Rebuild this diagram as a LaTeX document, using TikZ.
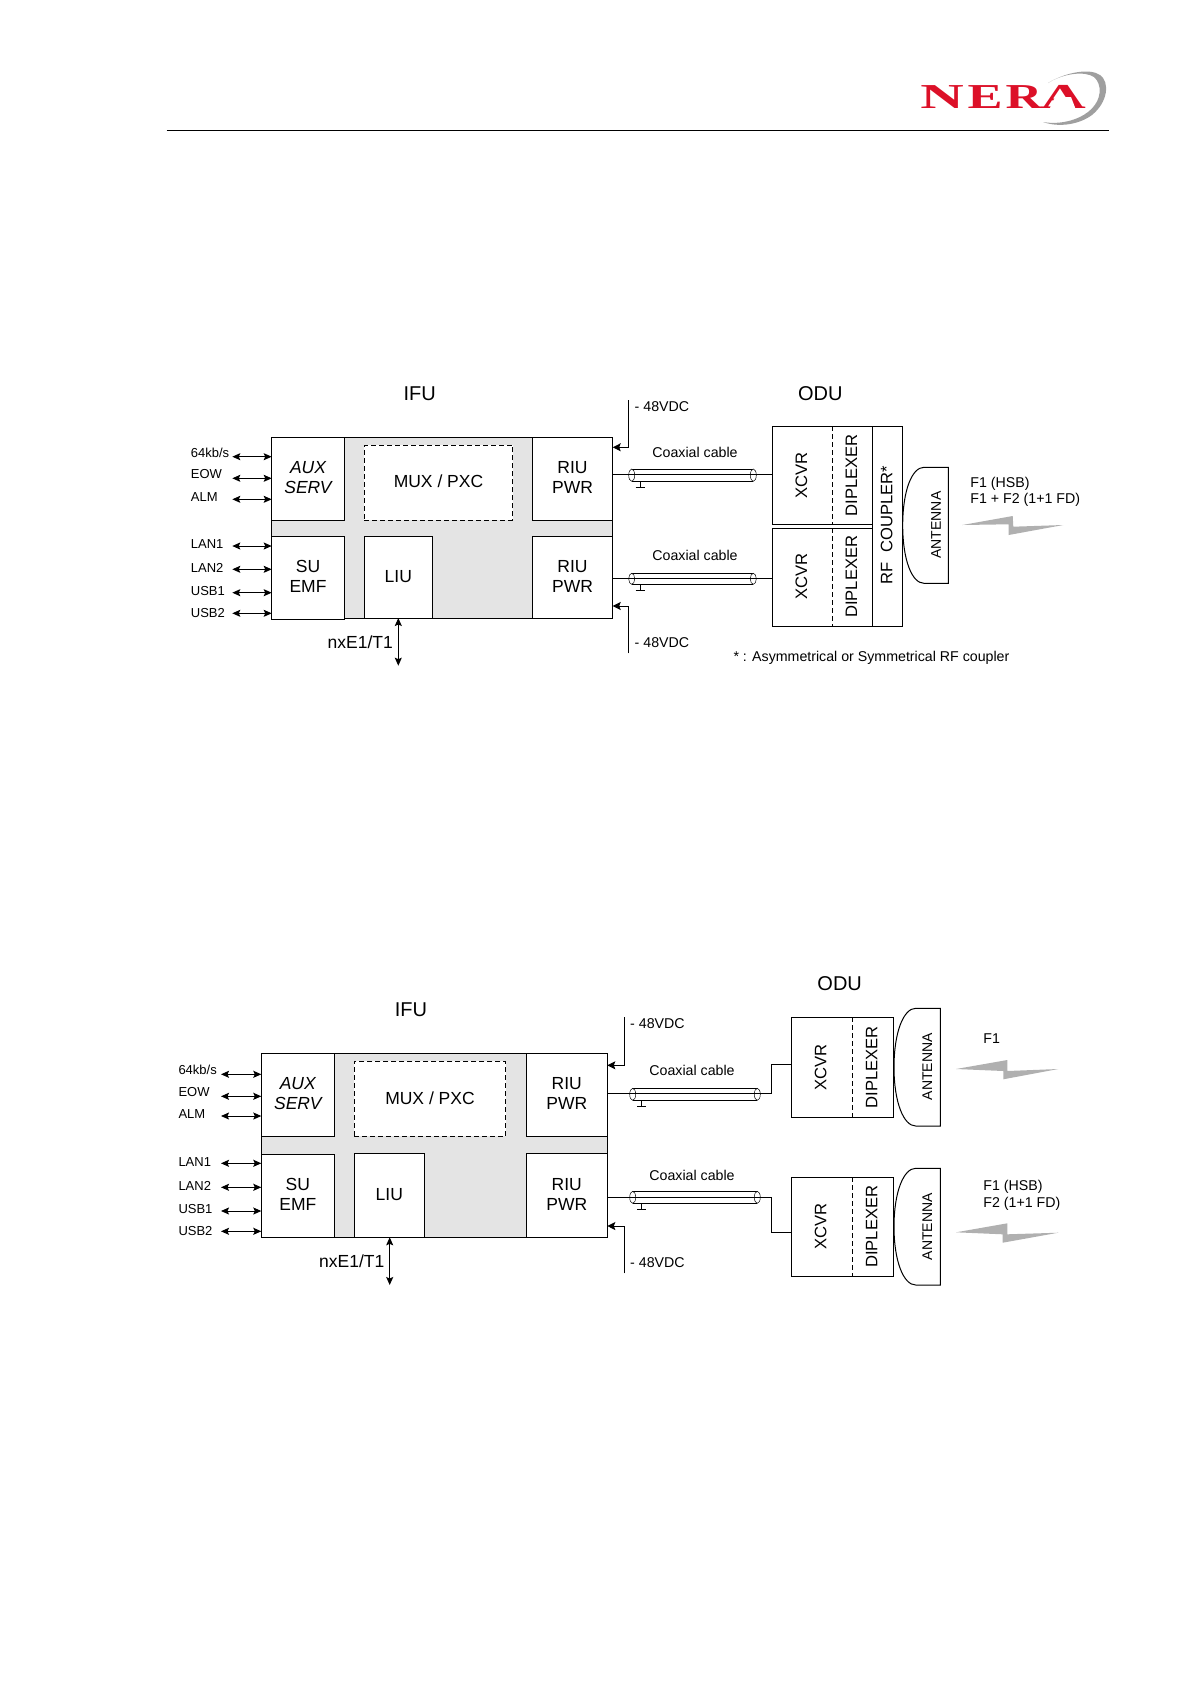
\documentclass[tikz,border=0pt]{standalone}
\usepackage{fontspec}
\usepackage{graphicx}
\setmainfont{Liberation Sans}
\newfontfamily\logofont{Liberation Serif}
\usetikzlibrary{arrows.meta}
\definecolor{shade}{HTML}{E4E4E4}
\definecolor{boltgray}{HTML}{B0B0B0}
\definecolor{nerared}{HTML}{DC1028}
\newcommand\fsz[1]{\fontsize{#1}{#1}\selectfont}
\tikzset{
  ifubg/.style={draw=black,line width=1pt,fill=shade,inner sep=0pt,outer sep=0pt},
  blk/.style={draw=black,line width=1pt,fill=white,inner sep=0pt,outer sep=0pt,align=center,text depth=2pt,font=\fontsize{17.5}{20}\selectfont},
  dblk/.style={blk,dashed,dash pattern=on 5pt off 3pt},
  oblk/.style={draw=black,line width=1pt,inner sep=0pt,outer sep=0pt},
  title/.style={inner sep=0pt,font=\fsz{20}},
  port/.style={inner sep=0pt,anchor=west,font=\fsz{13}},
  mid/.style={inner sep=0pt,font=\fsz{14.2}},
  midl/.style={inner sep=0pt,anchor=west,font=\fsz{14.2}},
  big/.style={inner sep=0pt,font=\fsz{17.5}},
  vert/.style={inner sep=0pt,rotate=90,font=\fsz{16.6}},
  vant/.style={inner sep=0pt,rotate=90,font=\fsz{14}},
  wire/.style={draw=black,line width=1pt},
  dbl/.style={wire,{Stealth[length=8pt,width=7pt,inset=1.5pt]}-{Stealth[length=8pt,width=7pt,inset=1.5pt]}},
  feed/.style={wire,-{Stealth[length=8pt,width=8pt,inset=1.5pt]}},
  dashline/.style={draw=black,line width=1pt,dash pattern=on 5pt off 3pt},
  bolt/.style={fill=boltgray,draw=none},
  logol/.style={inner sep=0pt,text=nerared,font=\logofont\bfseries\fsz{35}}
}
% name x1 y1 x2 y2 text
\newcommand\blk[7][blk]{\node[#1,minimum width={(#5-#3)*1pt},minimum height={(#6-#4)*1pt}] (#2) at ({(#3+#5)/2},{(#4+#6)/2}) {#7};}
% x1 x2 ytop ybot gx ygnd
\newcommand\coax[6]{%
  \draw[line width=1pt] (#1,#3) -- (#2,#3) (#1,#4) -- (#2,#4);
  \draw[line width=.5pt,fill=white] (#1,{(#3+#4)/2}) ellipse [x radius=3pt,y radius={(#4-#3)/2*1pt}];
  \draw[line width=.5pt,fill=white] (#2,{(#3+#4)/2}) ellipse [x radius=3pt,y radius={(#4-#3)/2*1pt}];
  \draw[line width=1pt] (#5,#4) -- (#5,#6) ({#5-4.5},#6) -- ({#5+4.5},#6);
}
% x left, x mid, top, bottom, x right
\newcommand\dish[5]{\draw[line width=1pt] (#5,#3) -- (#2,#3) .. controls ({#2-12},#3) and (#1,{#3+(#4-#3)*.2}) .. (#1,{(#3+#4)/2}) .. controls (#1,{#4-(#4-#3)*.2}) and ({#2-12},#4) .. (#2,#4) -- (#5,#4) -- cycle;}
\begin{document}
\begin{tikzpicture}[x=1pt,y=-1pt]
\useasboundingbox (0,0) rectangle (1190,1684);
% header
\coordinate (ruleL) at (166.5,130.3);
\coordinate (ruleR) at (1108.7,130.3);
\draw[line width=1pt,black] (ruleL) -- (ruleR);
\fill[gray!75] (1048,83) .. controls (1066,72) and (1090,68) .. (1100,75) .. controls (1110,82) and (1108,102) .. (1092,115) .. controls (1080,124) and (1060,128) .. (1043,122) .. controls (1060,125) and (1078,120) .. (1088,112) .. controls (1103,100) and (1102,84) .. (1094,77) .. controls (1085,71) and (1064,73) .. cycle;
\node[logol] (logoN) at (942,96.7) {\scalebox{1.72}[1]{N}};
\node[logol] (logoE) at (985,96.7) {\scalebox{1.5}[1]{E}};
\node[logol] (logoR) at (1024,96.7) {\scalebox{1.45}[1]{R}};
\node[logol] (logoA) at (1063,96.7) {\scalebox{1.8}[1]{A}};
\fill[white] (1055,97) -- (1071,97) -- (1076,110) -- (1049,110) -- cycle;

%% ---------- upper diagram
\node[title] (ifuA) at (419.7,393.7) {IFU};
\node[title] (oduA) at (820.3,393.3) {ODU};
\blk[ifubg]{shellA}{271.7}{437.3}{612.7}{618}{}
\blk{auxA}{271.7}{437.3}{344.3}{520}{\itshape AUX\\\itshape SERV}
\blk[dblk]{muxA}{364.3}{445.3}{512.7}{520}{MUX / PXC}
\blk{riuA}{532.3}{437.3}{612.7}{520}{RIU\\PWR}
\blk{suA}{271.7}{536.3}{344.3}{619}{SU\\EMF}
\blk{liuA}{364.3}{536.3}{432.3}{618}{LIU}
\blk{ruiA}{532.3}{536.3}{612.7}{618}{RIU\\PWR}
\foreach \nm/\txt/\ly/\ay/\tgt in {a/64kb\slash s/452.7/456.7/auxA,b/EOW/474/478.3/auxA,c/ALM/496.7/499.3/auxA,d/LAN1/544/546/suA,e/LAN2/567.7/569.3/suA,f/USB1/591/592.7/suA,g/USB2/612.7/613.3/suA}{
  \node[port] (pA\nm) at (190.7,\ly) {\txt};
  \coordinate (fA\nm) at (232.3,\ay);
  \draw[dbl] (fA\nm) -- (fA\nm -| \tgt.west);
}
\coordinate (nxA) at (398.3,665.7);
\node[big,anchor=east] (nxlA) at (393,642.3) {nxE1/T1};
\draw[dbl] (liuA.south -| nxA) -- (nxA);
% power
\coordinate (vuA) at (628.3,400);
\coordinate (vuB) at (628.3,447.3);
\coordinate (vlA) at (628.3,653.3);
\coordinate (vlB) at (628.3,606);
\draw[feed] (vuA) -- (vuB) -- (vuB -| riuA.east);
\draw[feed] (vlA) -- (vlB) -- (vlB -| ruiA.east);
\node[midl] (vtA) at (634.5,407) {- 48VDC};
\node[midl] (vbA) at (634.5,642.3) {- 48VDC};
% ODU boxes
\blk[oblk]{odu1A}{772.3}{426.3}{872.7}{524.3}{}
\blk[oblk]{odu2A}{772.3}{528.3}{872.7}{626.3}{}
\blk[oblk]{rfA}{872.7}{426.3}{902.3}{626.3}{}
\coordinate (dsA) at (832.3,426.3);
\draw[dashline] (dsA) -- (dsA |- odu1A.south);
\draw[dashline] (dsA |- odu2A.north) -- (dsA |- odu2A.south);
\node[vert] (xA1) at (801.5,475.3) {XCVR};
\node[vert] (xA2) at (801.5,576.7) {XCVR};
\node[vert] (dA1) at (851.5,475.3) {DIPLEXER};
\node[vert] (dA2) at (851.5,576.7) {DIPLEXER};
\node[vert] (rftA) at (886.7,525) {RF\ \ COUPLER*};
\dish{902.7}{924}{467.3}{583.3}{948.3}
\node[vant] (antA) at (936,525) {ANTENNA};
% coax
\coordinate (c1A) at (700,474.3);
\coordinate (c2A) at (700,578.3);
\coax{631.7}{753.3}{469}{481.3}{640}{487.3}
\coax{631.7}{753.3}{573.3}{584.3}{640}{590}
\draw[wire] (c1A -| riuA.east) -- (c1A -| odu1A.west);
\draw[wire] (c2A -| ruiA.east) -- (c2A -| odu2A.west);
\node[mid] (ctA1) at (695,452.3) {Coaxial cable};
\node[mid] (ctA2) at (695,555.7) {Coaxial cable};
\node[midl] (f1A) at (970.2,483.5) {F1 (HSB)};
\node[midl] (f2A) at (970.2,499.5) {F1 + F2 (1+1 FD)};
\fill[bolt] (962.3,525) -- (1012.7,516) -- (1013.3,526.7) -- (1063.3,525) -- (1008.7,535) -- (1008.7,524.3) -- cycle;
\node[midl] (noteA) at (733.3,657.5) {* : Asymmetrical or Symmetrical RF coupler};

%% ---------- lower diagram
\node[title] (ifuB) at (411,1010) {IFU};
\node[title] (oduB) at (839.7,983.3) {ODU};
\blk[ifubg]{shellB}{261.3}{1053.3}{607.3}{1237.3}{}
\blk{auxB}{261.3}{1053.3}{334.3}{1136.3}{\itshape AUX\\\itshape SERV}
\blk[dblk]{muxB}{354.3}{1061}{505.7}{1136.3}{MUX / PXC}
\blk{riuB}{526.3}{1053.3}{607.3}{1136.3}{RIU\\PWR}
\blk{suB}{261.3}{1154.3}{334.3}{1237.3}{SU\\EMF}
\blk{liuB}{354.3}{1153.3}{424.3}{1237.3}{LIU}
\blk{ruiB}{526.3}{1153.3}{607.3}{1237.3}{RIU\\PWR}
\foreach \nm/\txt/\ly/\ay/\tgt in {a/64kb\slash s/1069.7/1074.3/auxB,b/EOW/1091.7/1096.3/auxB,c/ALM/1113.7/1116/auxB,d/LAN1/1161.7/1163.3/suB,e/LAN2/1185.7/1187.3/suB,f/USB1/1209.3/1211/suB,g/USB2/1231/1231.3/suB}{
  \node[port] (pB\nm) at (178.3,\ly) {\txt};
  \coordinate (fB\nm) at (221,\ay);
  \draw[dbl] (fB\nm) -- (fB\nm -| \tgt.west);
}
\coordinate (nxB) at (389.7,1285);
\node[big,anchor=east] (nxlB) at (384.5,1261.7) {nxE1/T1};
\draw[dbl] (liuB.south -| nxB) -- (nxB);
\coordinate (wuA) at (624.3,1017.3);
\coordinate (wuB) at (624.3,1065.3);
\coordinate (wlA) at (624.3,1273.3);
\coordinate (wlB) at (624.3,1226);
\draw[feed] (wuA) -- (wuB) -- (wuB -| riuB.east);
\draw[feed] (wlA) -- (wlB) -- (wlB -| ruiB.east);
\node[midl] (vtB) at (630,1023.6) {- 48VDC};
\node[midl] (vbB) at (630,1262.6) {- 48VDC};
\blk[oblk]{odu1B}{791.3}{1017.3}{893.7}{1117.3}{}
\blk[oblk]{odu2B}{791.3}{1177.3}{893.7}{1276.3}{}
\coordinate (dsB) at (852.3,1017.3);
\draw[dashline] (dsB) -- (dsB |- odu1B.south);
\draw[dashline] (dsB |- odu2B.north) -- (dsB |- odu2B.south);
\node[vert] (xB1) at (820.7,1067.3) {XCVR};
\node[vert] (xB2) at (820.7,1226.7) {XCVR};
\node[vert] (dB1) at (871.7,1067.3) {DIPLEXER};
\node[vert] (dB2) at (871.7,1226.7) {DIPLEXER};
\dish{894}{915.7}{1008.3}{1126}{940.3}
\dish{894}{915.7}{1168.3}{1285}{940.3}
\node[vant] (antB1) at (927.3,1066.7) {ANTENNA};
\node[vant] (antB2) at (927.3,1226.7) {ANTENNA};
\coax{632.7}{757.3}{1088.3}{1100.3}{641.7}{1106.3}
\coax{632.7}{757.3}{1191.3}{1203.3}{641.7}{1209.3}
\coordinate (c1B) at (771.3,1093.3);
\coordinate (c2B) at (771.3,1197.3);
\coordinate (c1C) at (771.3,1064.3);
\coordinate (c2C) at (771.3,1232.3);
\draw[wire] (c1B -| riuB.east) -- (c1B) -- (c1C) -- (c1C -| odu1B.west);
\draw[wire] (c2B -| ruiB.east) -- (c2B) -- (c2C) -- (c2C -| odu2B.west);
\node[mid] (ctB1) at (692,1070) {Coaxial cable};
\node[mid] (ctB2) at (692,1175) {Coaxial cable};
\node[midl] (f1B) at (983.2,1038.7) {F1};
\node[midl] (f2B) at (983.2,1186.9) {F1 (HSB)};
\node[midl] (f3B) at (983.2,1203.5) {F2 (1+1 FD)};
\fill[bolt] (956,1069) -- (1007.3,1060) -- (1007.3,1071) -- (1058.3,1069) -- (1003.3,1079.3) -- (1003.3,1071) -- cycle;
\fill[bolt] (956,1232.3) -- (1007.3,1223.3) -- (1007.3,1234.3) -- (1058.3,1232.7) -- (1002.7,1242.7) -- (1002.7,1234.3) -- cycle;
\end{tikzpicture}
\end{document}
